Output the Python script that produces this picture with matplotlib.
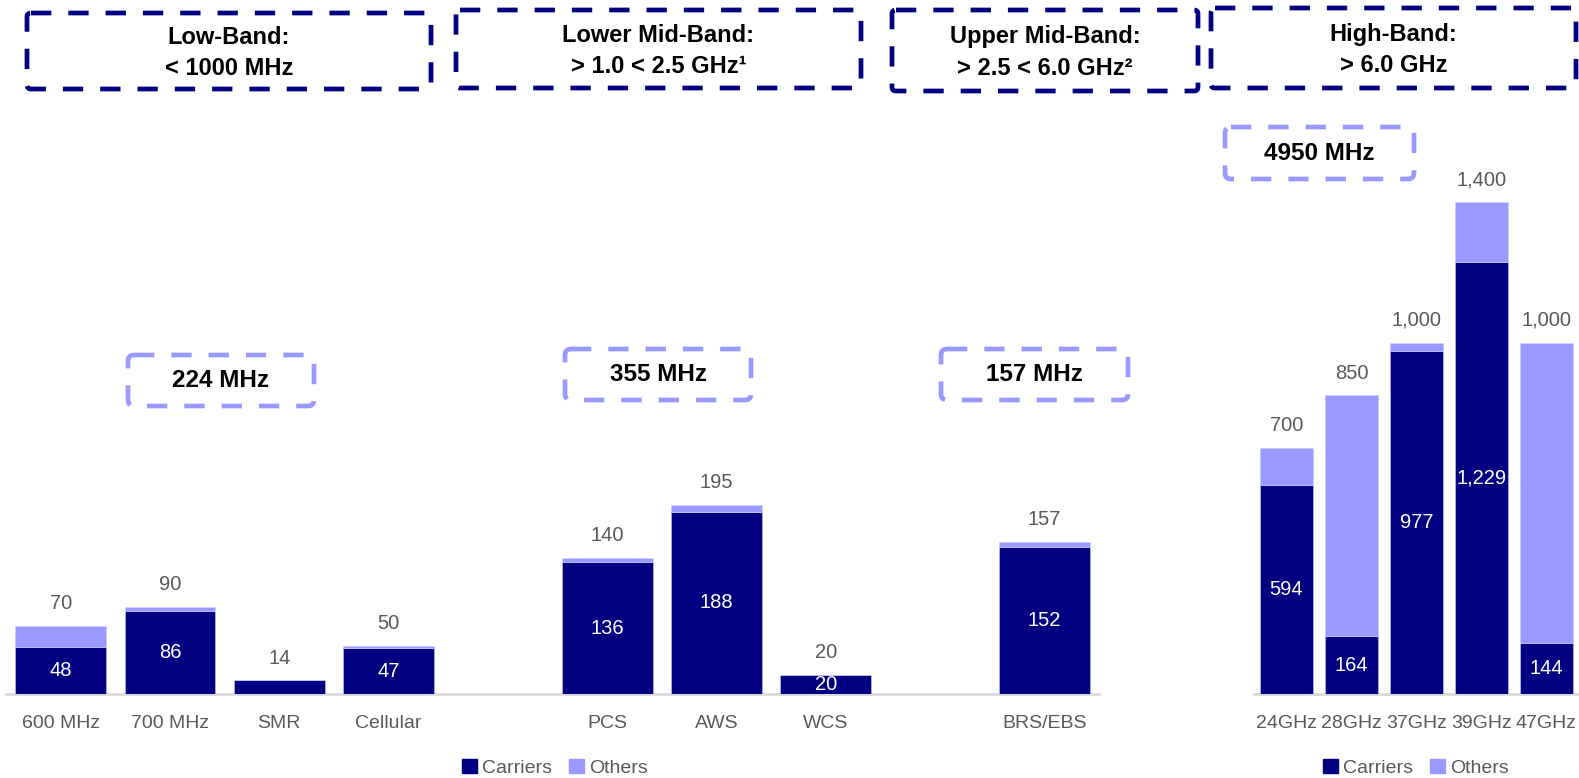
import matplotlib
matplotlib.use("Agg")
import matplotlib.pyplot as plt
from matplotlib.patches import FancyBboxPatch, Patch
import numpy as np

# ---------------- data ----------------
low_cats = ['600 MHz', '700 MHz', 'SMR', 'Cellular']
low_carriers = [48, 86, 14, 47]
low_totals = [70, 90, 14, 50]

lmid_cats = ['PCS', 'AWS', 'WCS']
lmid_carriers = [136, 188, 20]
lmid_totals = [140, 195, 20]

umid_cats = ['BRS/EBS']
umid_carriers = [152]
umid_totals = [157]

high_cats = ['24GHz', '28GHz', '37GHz', '39GHz', '47GHz']
high_carriers = [594, 164, 977, 1229, 144]
high_totals = [700, 850, 1000, 1400, 1000]

band_titles = ['Low-Band:\n< 1000 MHz', 'Lower Mid-Band:\n> 1.0 < 2.5 GHz\u00b9',
               'Upper Mid-Band:\n> 2.5 < 6.0 GHz\u00b2', 'High-Band:\n> 6.0 GHz']
band_sums = ['224 MHz', '355 MHz', '157 MHz', '4950 MHz']

# ---------------- style ----------------
NAVY = '#000080'
LIGHT = '#9999FF'
GRAY = '#595959'
FONT = ['Liberation Sans', 'DejaVu Sans']

W, H = 1579, 778
fig = plt.figure(figsize=(W / 100, H / 100), dpi=100)

base_px = 694
top_px = 110
ax_h = (base_px - top_px) / H
ax_b = 1 - base_px / H

axL = fig.add_axes([6 / W, ax_b, (1099 - 6) / W, ax_h])
axR = fig.add_axes([1254 / W, ax_b, (W - 1254) / W, ax_h])

# build left positions: groups separated by one empty slot
groups = [(low_cats, low_carriers, low_totals),
          (lmid_cats, lmid_carriers, lmid_totals),
          (umid_cats, umid_carriers, umid_totals)]
cats, carr, tots, pos = [], [], [], []
slot = 0
for g in groups:
    for c, v, t in zip(*g):
        cats.append(c); carr.append(v); tots.append(t); pos.append(slot)
        slot += 1
    slot += 1

def draw(ax, x, carriers, totals, labels, ymax, nolabel=()):
    carriers = np.array(carriers, float)
    totals = np.array(totals, float)
    others = totals - carriers
    bw = 0.83
    ax.bar(x, carriers, bw, color=NAVY, edgecolor='#ccccff', linewidth=0.4, zorder=3)
    ax.bar(x, others, bw, bottom=carriers, color=LIGHT, edgecolor='#ccccff', linewidth=0.4, zorder=3)
    for xi, c, t, lab in zip(x, carriers, totals, labels):
        ax.annotate(f'{int(t):,}', (xi, t), xytext=(0, 16), textcoords='offset points',
                    ha='center', va='center', fontsize=14.5, color=GRAY, family=FONT)
        if lab not in nolabel:
            ax.text(xi, c / 2, f'{int(c):,}', ha='center', va='center', fontsize=14.5,
                    color='white', family=FONT, zorder=4)
    ax.set_xticks(x)
    ax.set_xticklabels(labels, fontsize=14, color=GRAY, family=FONT)
    ax.tick_params(axis='x', length=0, pad=15)
    ax.set_yticks([])
    ax.set_ylim(0, ymax)
    for s in ['top', 'right', 'left']:
        ax.spines[s].set_visible(False)
    ax.spines['bottom'].set_color('#D9D9D9')
    ax.spines['bottom'].set_linewidth(2)
    ax.patch.set_alpha(0)

draw(axL, pos, carr, tots, cats, (base_px - top_px) / 0.970, nolabel=('SMR',))
axL.set_xlim(-0.5, slot - 1 - 0.5)
draw(axR, np.arange(len(high_cats)), high_carriers, high_totals, high_cats,
     (base_px - top_px) / 0.3515)
axR.set_xlim(-0.5, len(high_cats) - 0.5)

leg_handles = [Patch(color=NAVY, label='Carriers'), Patch(color=LIGHT, label='Others')]
for ax, cx in [(axL, 555), (axR, 1416)]:
    lg = ax.legend(handles=leg_handles, ncol=2, loc='center',
                   bbox_to_anchor=(cx / W, 1 - 768 / H), bbox_transform=fig.transFigure,
                   frameon=False, handlelength=0.75, handleheight=0.75, handletextpad=0.25,
                   columnspacing=0.9, prop={'family': FONT, 'size': 14})
    for t in lg.get_texts():
        t.set_color(GRAY)

# overlay in pixel coordinates
ov = fig.add_axes([0, 0, 1, 1], zorder=10)
ov.set_xlim(0, W)
ov.set_ylim(H, 0)
ov.axis('off')
ov.patch.set_alpha(0)

headers = [(27, 13, 431, 89), (456, 10, 861, 88), (892, 10, 1198, 91), (1211, 8, 1576, 88)]
for (x0, y0, x1, y1), txt in zip(headers, band_titles):
    p = FancyBboxPatch((x0, y0), x1 - x0, y1 - y0, boxstyle='round,pad=0,rounding_size=4',
                       fill=False, edgecolor=NAVY, linewidth=3.4, linestyle=(0, (4.3, 3.6)))
    ov.add_patch(p)
    ov.text((x0 + x1) / 2, (y0 + y1) / 2 + 2, txt, ha='center', va='center', fontsize=17,
            fontweight='bold', family=FONT, linespacing=1.45, color='black')

sums = [(128, 355, 314, 406), (565, 349, 751, 400), (941, 349, 1128, 400), (1225, 127, 1414, 179)]
for (x0, y0, x1, y1), txt in zip(sums, band_sums):
    p = FancyBboxPatch((x0, y0), x1 - x0, y1 - y0, boxstyle='round,pad=0,rounding_size=6',
                       fill=False, edgecolor=LIGHT, linewidth=3.4, linestyle=(0, (4.3, 3.6)))
    ov.add_patch(p)
    ov.text((x0 + x1) / 2, (y0 + y1) / 2, txt, ha='center', va='center', fontsize=17.5,
            fontweight='bold', family=FONT, color='black')

fig.savefig('out.png', dpi=100)
